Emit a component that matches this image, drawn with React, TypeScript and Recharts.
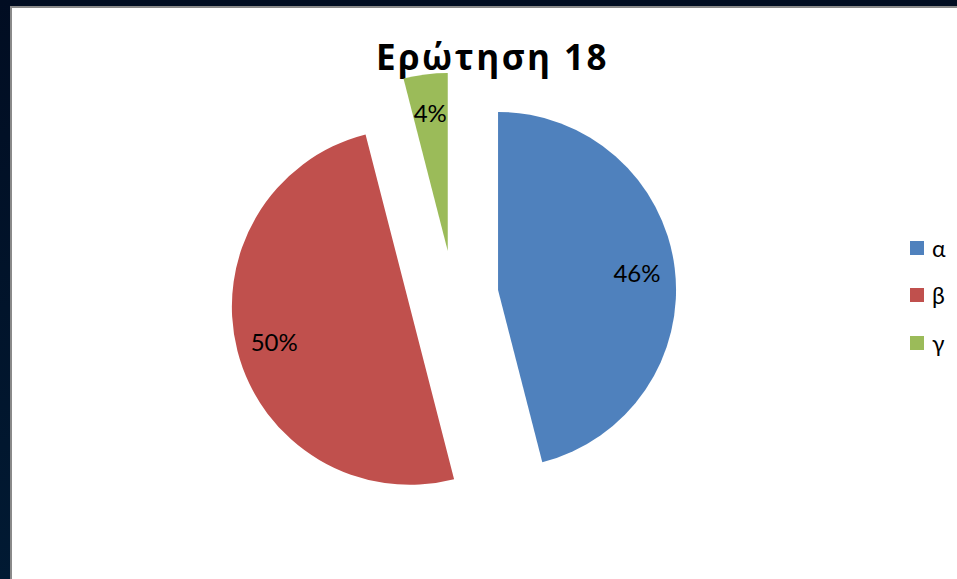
import React from 'react';
import { PieChart, Pie, Cell, Sector, Legend } from 'recharts';

const categories = ['α', 'β', 'γ'];
const values = [46, 50, 4];
const colors = ['#4F81BD', '#C0504D', '#9BBB59'];
const title = 'Ερώτηση 18';

const data = categories.map((name, i) => ({ name, value: values[i] }));

const RAD = Math.PI / 180;
const EXPLODE = 45;
const LABEL_R = 140;
const FONT = "Lato, 'Open Sans', 'Noto Sans', sans-serif";
const TITLE_FONT = "'Open Sans', 'Noto Sans', sans-serif";

const ExplodedSector = (props: any) => {
  const { cx, cy, midAngle } = props;
  const dx = EXPLODE * Math.cos(-midAngle * RAD);
  const dy = EXPLODE * Math.sin(-midAngle * RAD);
  return <Sector {...props} cx={cx + dx} cy={cy + dy} stroke="none" />;
};

const renderLabel = (props: any) => {
  const { cx, cy, midAngle, percent } = props;
  const r = EXPLODE + LABEL_R;
  const x = cx + r * Math.cos(-midAngle * RAD);
  const y = cy + r * Math.sin(-midAngle * RAD);
  return (
    <text x={x} y={y} fill="#000" fontSize={24} fontFamily={FONT} textAnchor="middle" dominantBaseline="central">
      {`${Math.round(percent * 100)}%`}
    </text>
  );
};

const renderLegend = (props: any) => {
  const { payload } = props;
  return (
    <ul style={{ listStyle: 'none', margin: 0, padding: 0 }}>
      {(payload || []).map((entry: any, i: number) => (
        <li key={i} style={{ height: 47.5, display: 'flex', alignItems: 'center', fontFamily: FONT, fontSize: 23, color: '#000' }}>
          <span style={{ display: 'inline-block', width: 14, height: 14, background: entry.color, marginRight: 8 }} />
          <span>{entry.value}</span>
        </li>
      ))}
    </ul>
  );
};

export default function App() {
  return (
    <div style={{ position: 'absolute', left: 0, top: 0, width: 957, height: 579, overflow: 'hidden', background: 'linear-gradient(to bottom, #010d22 0%, #011a33 100%)' }}>
      <div style={{ position: 'absolute', left: 10, top: 6, width: 945, height: 571, borderLeft: '2px solid #8a8a8a', borderTop: '2px solid #8a8a8a', background: '#ffffff' }}>
        <div style={{ position: 'absolute', left: 0, top: 31, width: 961, textAlign: 'center', fontFamily: TITLE_FONT, fontWeight: 'bold', fontSize: 35, letterSpacing: 2.5, color: '#000', lineHeight: '35px' }}>
          {title}
        </div>
        <PieChart width={945} height={571} margin={{ top: 0, right: 0, bottom: 0, left: 0 }} style={{ position: 'absolute', left: 0, top: 0 }}>
          <Pie
            data={data}
            dataKey="value"
            nameKey="name"
            cx={441.4}
            cy={287.6}
            outerRadius={178}
            startAngle={90}
            endAngle={-270}
            stroke="none"
            isAnimationActive={false}
            labelLine={false}
            label={renderLabel}
            shape={ExplodedSector}
            inactiveShape={ExplodedSector}
            activeShape={ExplodedSector}
          >
            {data.map((d, i) => (
              <Cell key={d.name} fill={colors[i]} />
            ))}
          </Pie>
          <Legend
            layout="vertical"
            content={renderLegend}
            wrapperStyle={{ position: 'absolute', left: 898, top: 216, width: 50 }}
          />
        </PieChart>
      </div>
    </div>
  );
}
